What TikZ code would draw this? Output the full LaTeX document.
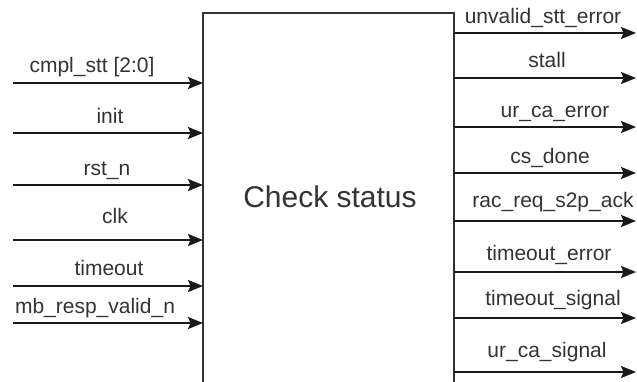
\documentclass[tikz,border=0pt]{standalone}
\usepackage{fontspec}
\setmainfont{Liberation Sans}
\usetikzlibrary{arrows.meta}

\tikzset{
  sig/.style={font=\fontsize{21}{25}\selectfont, text=black!80, inner sep=0pt, anchor=base},
  wire/.style={line width=1.6pt, draw=black!90, -{Stealth[length=15pt,width=12pt,inset=2.5pt]}},
}

\begin{document}
\begin{tikzpicture}[x=1pt,y=-1pt]
    \useasboundingbox (0,0) rectangle (637,381);
    \clip (0,0) rectangle (637,381);

    % the block, its bottom runs off the page
    \node[draw=black!80, line width=1.5pt, minimum width=251pt, minimum height=390pt,
          inner sep=0pt, outer sep=0pt, anchor=north west] (chk) at (203,13) {};
    \node[font=\fontsize{30}{36}\selectfont, text=black!80, anchor=base] (title) at (330,207) {Check status};

    % inputs
    \coordinate (in1) at (13,83);
    \coordinate (in2) at (13,133);
    \coordinate (in3) at (13,185);
    \coordinate (in4) at (13,240);
    \coordinate (in5) at (13,286);
    \coordinate (in6) at (13,323);
    \draw[wire] (in1) -- (in1 -| chk.west);
    \draw[wire] (in2) -- (in2 -| chk.west);
    \draw[wire] (in3) -- (in3 -| chk.west);
    \draw[wire] (in4) -- (in4 -| chk.west);
    \draw[wire] (in5) -- (in5 -| chk.west);
    \draw[wire] (in6) -- (in6 -| chk.west);
    \node[sig] (cmpl) at (92,72) {cmpl\_stt [2:0]};
    \node[sig] (init) at (110,123) {init};
    \node[sig] (rstn) at (107,175) {rst\_n};
    \node[sig] (clk) at (115,223) {clk};
    \node[sig] (tout) at (109,275) {timeout};
    \node[sig] (mbresp) at (95,313) {mb\_resp\_valid\_n};

    % outputs
    \coordinate (out1) at (636,33);
    \coordinate (out2) at (636,78);
    \coordinate (out3) at (636,127);
    \coordinate (out4) at (636,173);
    \coordinate (out5) at (636,221);
    \coordinate (out6) at (636,272);
    \coordinate (out7) at (636,318);
    \coordinate (out8) at (636,372);
    \draw[wire] (out1 -| chk.east) -- (out1);
    \draw[wire] (out2 -| chk.east) -- (out2);
    \draw[wire] (out3 -| chk.east) -- (out3);
    \draw[wire] (out4 -| chk.east) -- (out4);
    \draw[wire] (out5 -| chk.east) -- (out5);
    \draw[wire] (out6 -| chk.east) -- (out6);
    \draw[wire] (out7 -| chk.east) -- (out7);
    \draw[wire] (out8 -| chk.east) -- (out8);
    \node[sig] (unvalid) at (543,23) {unvalid\_stt\_error};
    \node[sig] (stall) at (547,67) {stall};
    \node[sig] (urcaerr) at (555,117) {ur\_ca\_error};
    \node[sig] (csdone) at (550,163) {cs\_done};
    \node[sig] (racack) at (553,207) {rac\_req\_s2p\_ack};
    \node[sig] (touterr) at (549,260) {timeout\_error};
    \node[sig] (toutsig) at (553,305) {timeout\_signal};
    \node[sig] (urcasig) at (547,357) {ur\_ca\_signal};
\end{tikzpicture}
\end{document}
